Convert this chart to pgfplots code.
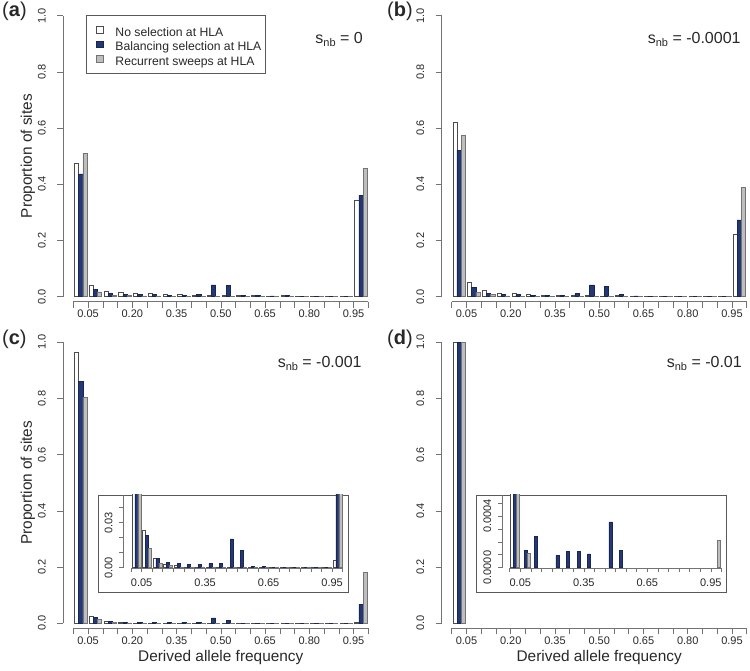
\documentclass[border=0pt]{standalone}
\usepackage{fontspec}
\setmainfont{Liberation Sans}
\usepackage{pgfplots}
\pgfplotsset{compat=1.18}
\usepackage{pgfplotstable}

\definecolor{navyc}{RGB}{35,56,117}
\definecolor{greyc}{RGB}{190,190,190}
\definecolor{axc}{RGB}{115,115,115}
\definecolor{txc}{RGB}{40,40,40}

\pgfplotstableread{
i w b g
1 0.474 0.437 0.510
2 0.0415 0.027 0.017
3 0.021 0.013 0.006
4 0.016 0.008 0.004
5 0.013 0.007 0.003
6 0.013 0.008 0.003
7 0.007 0.006 0.002
8 0.007 0.006 0.002
9 0.006 0.009 0.002
10 0.006 0.042 0.001
11 0.006 0.041 0.001
12 0.005 0.005 0.002
13 0.004 0.004 0.001
14 0.003 0.003 0.001
15 0.004 0.004 0.001
16 0.003 0.002 0.001
17 0.002 0.002 0.001
18 0.002 0.001 0.001
19 0.002 0.002 0.001
20 0.344 0.361 0.457
}\dataA

\pgfplotstableread{
i w b g
1 0.620 0.522 0.575
2 0.050 0.032 0.015
3 0.024 0.013 0.007
4 0.013 0.0095 0.003
5 0.012 0.007 0.002
6 0.008 0.005 0.001
7 0.006 0.006 0.001
8 0.005 0.006 0.001
9 0.005 0.011 0.001
10 0.004 0.042 0.001
11 0.003 0.038 0.001
12 0.004 0.007 0.001
13 0.002 0.003 0.001
14 0.002 0.002 0.001
15 0.002 0.001 0.001
16 0.001 0.001 0.001
17 0.001 0.001 0.001
18 0.001 0.001 0.001
19 0.001 0.001 0.001
20 0.223 0.273 0.389
}\dataB

\pgfplotstableread{
i w b g
1 0.963 0.860 0.804
2 0.0251 0.0218 0.0129
3 0.0062 0.0062 0.0029
4 0.0024 0.0036 0.0014
5 0.0018 0.0027 0.0005
6 0.0005 0.0024 0.0003
7 0.0003 0.0022 0.0002
8 0.0003 0.0029 0.0002
9 0.0003 0.0030 0.0002
10 0.0003 0.0193 0.0002
11 0.0002 0.0116 0.0001
12 0.0002 0.0009 0.0001
13 0.0002 0.0007 0.0001
14 0.0001 0.0003 0.0001
15 0.0001 0.0003 0.0001
16 0.0001 0.0003 0.0001
17 0.0001 0.0002 0.0001
18 0.0001 0.0002 0.0001
19 0.0001 0.0002 0.0001
20 0.0051 0.068 0.181
}\dataC

\pgfplotstableread{
i w b g
1 0.9996 0.9990 0.9994
2 nan 0.000134 0.000108
3 nan 0.000245 nan
5 nan 0.000095 nan
6 nan 0.000126 nan
7 nan 0.000124 nan
8 nan 0.000106 nan
10 nan 0.000354 nan
11 nan 0.000132 nan
20 nan nan 0.000209
}\dataD

% #1 table, #2 factor for the y unit of the axis
\newcommand{\bars}[2]{%
  \addplot[ybar, bar width=0.0142857, bar shift=0pt, fill=white, draw=black!70, line width=0.5pt]
    table[x expr=\thisrow{i}*0.05-0.0392857, y expr=\thisrow{w}*#2]{#1};
  \addplot[ybar, bar width=0.0142857, bar shift=0pt, fill=navyc, draw=navyc!70!black, line width=0.5pt]
    table[x expr=\thisrow{i}*0.05-0.025, y expr=\thisrow{b}*#2]{#1};
  \addplot[ybar, bar width=0.0142857, bar shift=0pt, fill=greyc, draw=black!55, line width=0.5pt]
    table[x expr=\thisrow{i}*0.05-0.0107143, y expr=\thisrow{g}*#2]{#1};
}

\pgfplotsset{
  common/.style={
    scale only axis, anchor=south west,
    axis line style={draw=none},
    tick pos=left, tick align=outside,
    tick style={draw=axc, line width=0.6pt},
    xtick={0,0.05,0.1,0.15,0.2,0.25,0.3,0.35,0.4,0.45,0.5,0.55,0.6,0.65,0.7,0.75,0.8,0.85,0.9,0.95,1},
    tick label style={font=\fontsize{11}{13}\selectfont, text=txc, inner sep=1pt},
    clip mode=individual,
    legend image code/.code={\path (0pt,0pt); \draw[##1] (6.7pt,-3.3pt) rectangle (13.3pt,3.3pt);},
  },
  mainax/.style={
    common,
    width=307.95pt, height=297.2pt,
    xmin=-0.0339, xmax=1.01, ymin=-0.0178, ymax=1.04,
    major tick length=6pt,
    xticklabels={,0.05,,,0.20,,,0.35,,,0.50,,,0.65,,,0.80,,,0.95,},
    ytick={0,0.2,0.4,0.6,0.8,1},
    yticklabels={0.0,0.2,0.4,0.6,0.8,1.0},
    xticklabel style={yshift=-1.3pt},
    yticklabel style={xshift=-10.3pt, rotate=90, anchor=south},
    every axis y label/.style={at={(axis description cs:-0.1146,0.4895)}, rotate=90, anchor=center, inner sep=0pt, font=\fontsize{15.4}{17}\selectfont, text=txc},
    every axis x label/.style={at={(axis description cs:0.5114,-0.0999)}, anchor=center, inner sep=0pt, font=\fontsize{15.4}{17}\selectfont, text=txc},
  },
  insetax/.style={
    common,
    width=224.7pt, height=73.3pt,
    xmin=-0.0364, xmax=1.025,
    major tick length=3.8pt,
    restrict y to domain*=-1:10,
    xticklabels={,0.05,,,,,,0.35,,,,,,0.65,,,,,,0.95,},
    xticklabel style={yshift=-5.9pt},
    yticklabel style={xshift=-5.8pt, rotate=90, anchor=south},
  },
}

\newcommand{\mainlines}{%
  \draw[axc, line width=0.6pt] (axis cs:-0.0339,0) -- (axis cs:-0.0339,1);
  \draw[axc, line width=0.6pt] (axis cs:0,-0.0178) -- (axis cs:1,-0.0178);
}

\begin{document}
\begin{tikzpicture}
\path[use as bounding box] (0,0) rectangle (750pt,671pt);

% (a)
\begin{axis}[mainax, at={(63.3pt,369.3pt)}, ylabel={Proportion of sites},
  legend cell align=left,
  legend style={at={(axis description cs:0.0737,0.9646)}, anchor=north west,
    draw=black!65, line width=0.6pt, fill=white,
    font=\fontsize{12.2}{14}\selectfont, text=txc,
    inner xsep=3pt, inner ysep=6.9pt, row sep=0pt,
    /tikz/every odd column/.append style={column sep=11.4pt},
    nodes={inner xsep=1pt, inner ysep=0pt, text height=13.8pt, text depth=0.85pt}}]
\bars{\dataA}{1}
\mainlines
\node[anchor=base east, font=\fontsize{16}{16}\selectfont, text=txc, inner sep=0pt] at (axis cs:0.982,0.902) {s\raisebox{-0.35ex}{\fontsize{11}{11}\selectfont nb} = 0};
\legend{No selection at HLA, Balancing selection at HLA, Recurrent sweeps at HLA}
\end{axis}

% (b)
\begin{axis}[mainax, at={(441.7pt,369.3pt)}]
\bars{\dataB}{1}
\mainlines
\node[anchor=base east, font=\fontsize{16}{16}\selectfont, text=txc, inner sep=0pt] at (axis cs:0.98,0.902) {s\raisebox{-0.35ex}{\fontsize{11}{11}\selectfont nb} = -0.0001};
\end{axis}

% (c)
\begin{axis}[mainax, at={(63.3pt,42.7pt)}, ylabel={Proportion of sites}, xlabel={Derived allele frequency}]
\bars{\dataC}{1}
\mainlines
\node[anchor=base east, font=\fontsize{16}{16}\selectfont, text=txc, inner sep=0pt] at (axis cs:0.978,0.91) {s\raisebox{-0.35ex}{\fontsize{11}{11}\selectfont nb} = -0.001};
\end{axis}
\draw[black!65, line width=0.7pt, fill=white] (98pt,79pt) rectangle (348pt,176pt);
\begin{axis}[insetax, at={(123.3pt,102.7pt)}, ymin=-0.04, ymax=4.85,
  ytick={0,1,2,3,4}, yticklabels={0.00,,,0.03,}]
\bars{\dataC}{100}
\draw[axc, line width=0.6pt] (axis cs:-0.0364,0) -- (axis cs:-0.0364,4.85);
\draw[axc, line width=0.6pt] (axis cs:0,-0.04) -- (axis cs:1,-0.04);
\end{axis}

% (d)
\begin{axis}[mainax, at={(441.7pt,42.7pt)}, xlabel={Derived allele frequency},
  restrict y to domain=0.001:2]
\bars{\dataD}{1}
\mainlines
\node[anchor=base east, font=\fontsize{16}{16}\selectfont, text=txc, inner sep=0pt] at (axis cs:0.984,0.91) {s\raisebox{-0.35ex}{\fontsize{11}{11}\selectfont nb} = -0.01};
\end{axis}
\draw[black!65, line width=0.7pt, fill=white] (476.7pt,79pt) rectangle (726.7pt,176pt);
\begin{axis}[insetax, at={(502pt,102.7pt)}, ymin=-0.05, ymax=5.63,
  ytick={0,1,2,3,4,5}, yticklabels={0.0000,,,,0.0004,}]
\bars{\dataD}{10000}
\draw[axc, line width=0.6pt] (axis cs:-0.0364,0) -- (axis cs:-0.0364,5.63);
\draw[axc, line width=0.6pt] (axis cs:0,-0.05) -- (axis cs:1,-0.05);
\end{axis}

% panel labels
\node[anchor=base west, inner sep=0pt, font=\fontsize{20}{20}\selectfont, text=txc] at (2pt,654.5pt) {(\textbf{a})};
\node[anchor=base west, inner sep=0pt, font=\fontsize{20}{20}\selectfont, text=txc] at (387pt,654.5pt) {(\textbf{b})};
\node[anchor=base west, inner sep=0pt, font=\fontsize{20}{20}\selectfont, text=txc] at (2pt,326pt) {(\textbf{c})};
\node[anchor=base west, inner sep=0pt, font=\fontsize{20}{20}\selectfont, text=txc] at (387pt,326pt) {(\textbf{d})};
\end{tikzpicture}
\end{document}
